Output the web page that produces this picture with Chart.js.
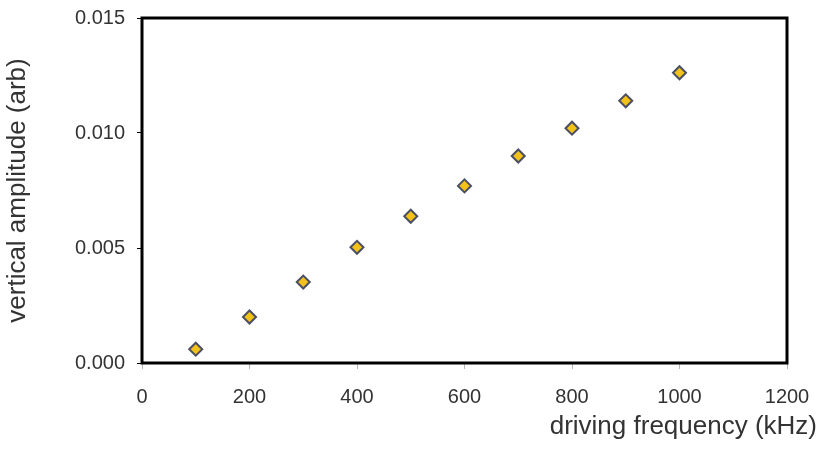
<!DOCTYPE html>
<html>
<head>
<meta charset="utf-8">
<script src="https://cdn.jsdelivr.net/npm/chart.js@4/dist/chart.umd.min.js"></script>
<style>
  html, body { margin: 0; padding: 0; background: #fff; }
  #wrap { width: 819px; height: 450px; }
</style>
</head>
<body>
<div id="wrap"><canvas id="chart" width="819" height="450"></canvas></div>
<script>
var frequencies = [100, 200, 300, 400, 500, 600, 700, 800, 900, 1000];
var amplitudes = [0.0006, 0.0020, 0.00352, 0.00503, 0.00638, 0.0077, 0.0090, 0.01021, 0.01140, 0.01262];
var xTicks = [0, 200, 400, 600, 800, 1000, 1200];
var yTicks = [0.000, 0.005, 0.010, 0.015];

var FONT = '"Liberation Sans", Arial, sans-serif';
var TEXT = '#333333';

// frame around the plot area + right-aligned x title
var framePlugin = {
  id: 'frame',
  afterDatasetsDraw: function (chart) {
    var a = chart.chartArea;
    var ctx = chart.ctx;
    ctx.save();
    ctx.strokeStyle = '#000';
    ctx.lineWidth = 3;
    ctx.strokeRect(a.left, a.top, a.right - a.left, a.bottom - a.top);
    ctx.restore();
  },
  afterDraw: function (chart) {
    var ctx = chart.ctx;
    ctx.save();
    ctx.font = '26px ' + FONT;
    ctx.fillStyle = TEXT;
    ctx.textAlign = 'right';
    ctx.textBaseline = 'alphabetic';
    ctx.fillText('driving frequency (kHz)', 817, 434);
    ctx.restore();
  }
};

new Chart(document.getElementById('chart'), {
  type: 'scatter',
  data: {
    datasets: [
      {
        label: 'amplitude',
        data: frequencies.map(function (f, i) { return { x: f, y: amplitudes[i] }; }),
        pointStyle: 'rectRot',
        pointRadius: 6.5,
        pointHoverRadius: 6.5,
        pointBackgroundColor: '#f2c21b',
        pointBorderColor: '#4b4f63',
        pointBorderWidth: 2,
      },
    ],
  },
  options: {
    responsive: false,
    animation: false,
    events: [],
    layout: { padding: { top: 18, right: 32, left: 0, bottom: 0 } },
    plugins: {
      legend: { display: false },
      tooltip: { enabled: false },
    },
    scales: {
      x: {
        type: 'linear',
        min: 0,
        max: 1200,
        afterBuildTicks: function (scale) {
          scale.ticks = xTicks.map(function (v) { return { value: v }; });
        },
        afterFit: function (scale) {
          scale.height = 87;
          scale.paddingLeft = 0;
          scale.paddingRight = 0;
        },
        grid: { drawOnChartArea: false, drawTicks: true, tickLength: 6, color: '#b5b5b5' },
        border: { display: false },
        ticks: {
          color: TEXT,
          font: { family: FONT, size: 20 },
          padding: 16,
          maxRotation: 0,
          callback: function (v) { return String(v); },
        },
      },
      y: {
        type: 'linear',
        min: 0,
        max: 0.015,
        afterBuildTicks: function (scale) {
          scale.ticks = yTicks.map(function (v) { return { value: v }; });
        },
        afterFit: function (scale) {
          scale.width = 142;
          scale.paddingTop = 0;
          scale.paddingBottom = 0;
        },
        grid: { drawOnChartArea: false, drawTicks: true, tickLength: 5, color: '#000' },
        border: { display: false },
        ticks: {
          color: TEXT,
          font: { family: FONT, size: 20 },
          padding: 12,
          callback: function (v) { return Number(v).toFixed(3); },
        },
        title: {
          display: true,
          text: 'vertical amplitude (arb)',
          color: TEXT,
          font: { family: FONT, size: 26 },
          padding: { top: 2, bottom: 0 },
        },
      },
    },
  },
  plugins: [framePlugin],
});
</script>
</body>
</html>
